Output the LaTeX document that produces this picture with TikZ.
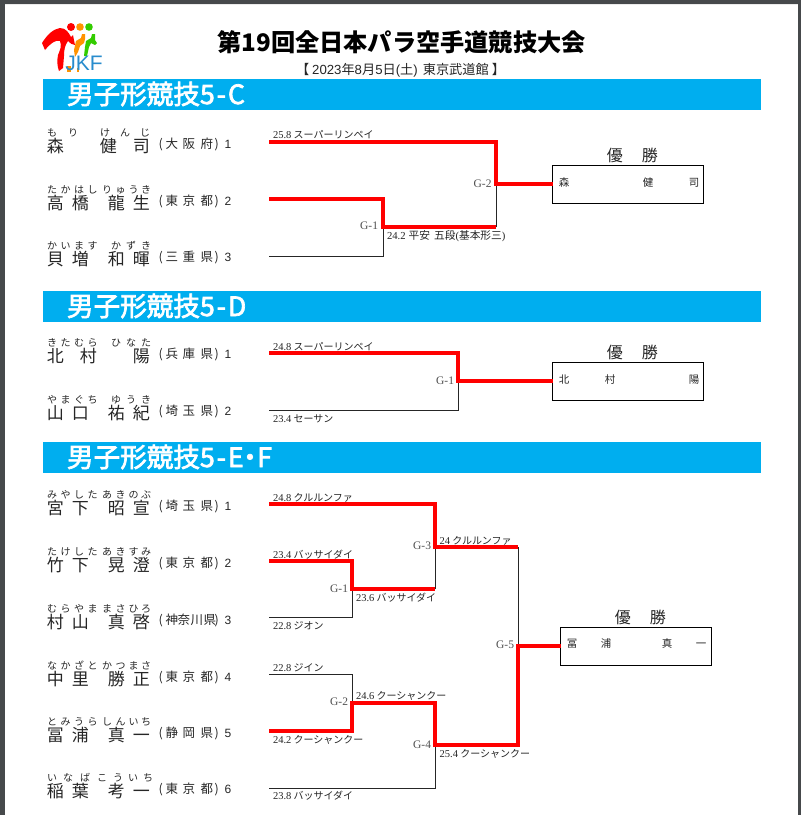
\documentclass[tikz,border=0pt]{standalone}
\usepackage{fontspec}
\setmainfont{Noto Sans CJK JP}
\newfontfamily\lat{Liberation Serif}
\newfontfamily\latsans{Liberation Sans}
\newfontfamily\barfont[FakeBold=2.5]{Noto Sans CJK JP}
\newlength{\pxu}\setlength{\pxu}{0.75pt}
\newcommand\kc[2]{\rlap{\hspace{#1\pxu}#2}}
\newcommand\fs[1]{\fontsize{#1\pxu}{#1\pxu}\selectfont}
\newcommand\kn[1]{\hspace{#1\pxu}}
\definecolor{barblue}{HTML}{00AEEF}
\definecolor{winred}{HTML}{FF0000}
\definecolor{ink}{HTML}{262626}
\definecolor{chrome}{HTML}{46494B}
\tikzset{
  base/.style={inner sep=0pt,outer sep=0pt,text=ink,anchor=base west},
  kanjitext/.style={base,font=\fs{17}},
  kanatext/.style={base,font=\fs{10}},
  preftext/.style={base,font=\fs{12.5}},
  numtext/.style={base,font=\latsans\fs{12}},
  score/.style={inner sep=0pt,outer sep=0pt,text=ink,anchor=west,font=\fs{10}},
  gamelabel/.style={inner sep=0pt,outer sep=0pt,text=ink!80,anchor=east,font=\lat\fs{11.5}},
  bar/.style={fill=barblue,draw=none,minimum width=718*\pxu,minimum height=31*\pxu,inner sep=0pt,outer sep=0pt,anchor=west},
  bartext/.style={inner sep=0pt,outer sep=0pt,text=white,anchor=base west,font=\barfont\fs{26.6}},
  winline/.style={draw=winred,line width=3.8*\pxu,line join=miter},
  loseline/.style={draw=ink,line width=1*\pxu},
  winbox/.style={draw=black,line width=1*\pxu,minimum width=151*\pxu,minimum height=38*\pxu,inner sep=0pt,outer sep=0pt,anchor=north west,fill=white},
  boxtext/.style={inner sep=0pt,text=ink,anchor=base west,font=\fs{10.5}},
  wintitle/.style={inner sep=0pt,text=ink,anchor=base west,font=\fs{16}},
}
% id, y of kanji centre, kana, kanji, prefecture, number
\newcommand\Player[6]{%
  \node[kanatext] (#1k) at (46.5,#2-9.5) {#3};
  \node[kanjitext] (#1n) at (46.3,#2+6) {#4};
  \node[preftext] (#1p) at (158,#2+2.5) {#5};
  \node[numtext] (#1r) at (224.5,#2+2.5) {#6};
}
\newcommand\Kn[8]{\kc{0}{#1}\kc{13.5}{#2}\kc{27}{#3}\kc{40.5}{#4}\kc{#5}{}\kc{55}{#6}\kc{68.5}{#7}\kc{81.5}{#8}}
\newcommand\Pf[3]{\kc{0}{(}\kc{7}{#1}\kc{24}{#2}\kc{42}{#3}\kc{56}{)}}
\newcommand\Nm[4]{\kc{0}{#1}\kc{25}{#2}\kc{61}{#3}\kc{86}{#4}}
\newcommand\Score[5]{\node[score] (#1) at (#2,#3) {{\lat\fs{10.5}#4} #5};}
\begin{document}
\begin{tikzpicture}[x=0.75pt,y=-0.75pt]
\useasboundingbox (0,0) rectangle (801,815);
\fill[white] (0,0) rectangle (801,815);
\fill[chrome] (0,0) rectangle (801,4);
\fill[chrome] (0,0) rectangle (5,815);
\fill[chrome] (798,0) rectangle (801,815);
\fill[black!8] (5,4) rectangle (798,5);

% logo
\fill[winred] (71,27) circle (4);
\fill[orange!85!yellow] (80,27) circle (3.8);
\fill[green!60!olive] (89,27) circle (3.8);
\fill[orange!85!yellow] (76,41) -- (81,38) -- (82,34) -- (85,34) -- (85,39) -- (84,43) -- (80,46) -- (78,52) -- (75,57) -- (74,50) -- cycle;
\fill[orange!85!yellow] (67,66) rectangle (71,72);
\fill[orange!85!yellow] (77,68) rectangle (79,72);
\fill[green!60!olive] (86,41) -- (91,38) -- (92,34) -- (95,34) -- (95,40) -- (97,43) -- (95,45) -- (91,43) -- (89,47) -- (87,56) -- (84,56) -- (85,47) -- cycle;
\fill[winred] (42,43) .. controls (47,35) and (53,29) .. (60,28) .. controls (66,28) and (69,33) .. (71,37) -- (73,35) -- (75,45) .. controls (72,45) and (70,43) .. (68,41) .. controls (65,45) and (64,50) .. (64,56) -- (63,68) -- (59,71) .. controls (57,66) and (57,60) .. (58,55) .. controls (60,50) and (62,46) .. (60,41) .. controls (56,39) and (50,44) .. (45,50) -- cycle;
\node[inner sep=0pt,text={rgb,255:red,40;green,140;blue,205},font=\latsans\fs{21},anchor=base] (logotext) at (84,70) {JKF};

% header
\node[inner sep=0pt,text=black,anchor=base,font=\fs{24.2}\bfseries] (title) at (401.5,51) {第19回全日本パラ空手道競技大会};
\node[inner sep=0pt,text=ink,anchor=base,font=\fs{13.2}] (date) at (400.5,74.5) {【 {\latsans 2023}年{\latsans 8}月{\latsans 5}日{\latsans (}土{\latsans )}\hspace{5\pxu}東京武道館 】};

% section bars
\node[bar] (barC) at (43,94.5) {};
\node[bartext] at (67,104) (barCt) {男子形競技5\kn{2}-\kn{2}C};
\node[bar] (barD) at (43,306.5) {};
\node[bartext] at (67,316) (barDt) {男子形競技5\kn{2}-\kn{2}D};
\node[bar] (barE) at (43,457.5) {};
\node[bartext] at (67,467) (barEt) {男子形競技5\kn{2}-\kn{2}E\kn{-7}・\kn{-6}F};

% players: section C
\Player{ca}{146}{\kc{0}{も}\kc{21}{り}\kc{53}{け}\kc{73}{ん}\kc{93}{じ}}{\kc{0}{森}\kc{53}{健}\kc{86}{司}}{\Pf{大}{阪}{府}}{1}
\Player{cb}{203}{\Kn{た}{か}{は}{し}{0}{り}{ゅ}{う}\kc{94}{き}}{\Nm{高}{橋}{龍}{生}}{\Pf{東}{京}{都}}{2}
\Player{cc}{259}{\Kn{か}{い}{ま}{す}{0}{}{}{}\kc{64}{か}\kc{79}{ず}\kc{94}{き}}{\Nm{貝}{増}{和}{暉}}{\Pf{三}{重}{県}}{3}
% section D
\Player{da}{356}{\Kn{き}{た}{む}{ら}{0}{}{}{}\kc{64}{ひ}\kc{79}{な}\kc{94}{た}}{\kc{0}{北}\kc{33}{村}\kc{86}{陽}}{\Pf{兵}{庫}{県}}{1}
\Player{db}{413}{\Kn{や}{ま}{ぐ}{ち}{0}{}{}{}\kc{64}{ゆ}\kc{79}{う}\kc{94}{き}}{\Nm{山}{口}{祐}{紀}}{\Pf{埼}{玉}{県}}{2}
% section E F
\Player{ea}{508}{\Kn{み}{や}{し}{た}{0}{あ}{き}{の}\kc{94}{ぶ}}{\Nm{宮}{下}{昭}{宣}}{\Pf{埼}{玉}{県}}{1}
\Player{eb}{565}{\Kn{た}{け}{し}{た}{0}{あ}{き}{す}\kc{94}{み}}{\Nm{竹}{下}{晃}{澄}}{\Pf{東}{京}{都}}{2}
\Player{ec}{622}{\Kn{む}{ら}{や}{ま}{0}{ま}{さ}{ひ}\kc{94}{ろ}}{\Nm{村}{山}{真}{啓}}{\kc{0}{(}\kc{7}{神}\kc{19}{奈}\kc{32}{川}\kc{45}{県}\kc{56}{)}}{3}
\Player{ed}{679}{\Kn{な}{か}{ざ}{と}{0}{か}{つ}{ま}\kc{94}{さ}}{\Nm{中}{里}{勝}{正}}{\Pf{東}{京}{都}}{4}
\Player{ee}{735}{\Kn{と}{み}{う}{ら}{0}{し}{ん}{い}\kc{94}{ち}}{\Nm{冨}{浦}{真}{一}}{\Pf{静}{岡}{県}}{5}
\Player{ef}{791}{\kc{0}{い}\kc{16}{な}\kc{33}{ば}\kc{50}{こ}\kc{66}{う}\kc{81}{い}\kc{96}{ち}}{\Nm{稲}{葉}{考}{一}}{\Pf{東}{京}{都}}{6}

% winner boxes
\node[winbox] (wC) at (552.5,165.5) {};
\node[boxtext] (wCn) at (558,186) {\kc{0}{森}\kc{84}{健}\kc{130}{司}};
\node[wintitle] (wCt) at (606,161) {\kc{0}{優}\kc{35}{勝}};
\node[winbox] (wD) at (552.5,362.5) {};
\node[boxtext] (wDn) at (558,383) {\kc{0}{北}\kc{46}{村}\kc{130}{陽}};
\node[wintitle] (wDt) at (606,358) {\kc{0}{優}\kc{35}{勝}};
\node[winbox] (wE) at (560.5,627) {};
\node[boxtext] (wEn) at (566,647) {\kc{0}{冨}\kc{34}{浦}\kc{95}{真}\kc{129}{一}};
\node[wintitle] (wEt) at (614,623) {\kc{0}{優}\kc{35}{勝}};

% bracket points
\coordinate (c1) at (269,142); \coordinate (c2) at (269,199); \coordinate (c3) at (269,256);
\coordinate (cg1) at (383,227); \coordinate (cg2) at (496,184);
\coordinate (d1) at (269,353); \coordinate (d2) at (269,410); \coordinate (dg1) at (458,381);
\coordinate (e1) at (269,504); \coordinate (e2) at (269,561); \coordinate (e3) at (269,617);
\coordinate (e4) at (269,674); \coordinate (e5) at (269,731); \coordinate (e6) at (269,788);
\coordinate (eg1) at (352,589); \coordinate (eg2) at (352,703);
\coordinate (eg3) at (435,547); \coordinate (eg4) at (435,745); \coordinate (eg5) at (518,646);

% losing connectors
\draw[loseline] (c3) -| (cg1);
\draw[loseline] (cg1 -| cg2) -- (cg2);
\draw[loseline] (d2) -| (dg1);
\draw[loseline] (e3) -| (eg1);
\draw[loseline] (e4) -| (eg2);
\draw[loseline] (e6) -| (eg4);
\draw[loseline] (eg1 -| eg3) -- (eg3);
\draw[loseline] (eg3 -| eg5) -- (eg5);

% winning connectors
\draw[winline] (c1) -| (cg2) -- (wC.west |- cg2);
\draw[winline] (c2) -| (cg1) -- (cg1 -| cg2);
\draw[winline] (d1) -| (dg1) -- (wD.west |- dg1);
\draw[winline] (e1) -| (eg3) -- (eg3 -| eg5);
\draw[winline] (e2) -| (eg1) -- (eg1 -| eg3);
\draw[winline] (e5) -| (eg2) -- (eg2 -| eg4) -- (eg4) -- (eg4 -| eg5) -- (eg5) -- (wE.west |- eg5);

% score labels
\Score{sc1}{273}{135}{25.8}{スーパーリンペイ}
\node[score,font=\fs{10.7}] (sc2) at (387,236) {{\lat 24.2}\kn{3}平安\kn{4}五段{\lat(}基本形三{\lat)}};
\Score{sd1}{273}{347}{24.8}{スーパーリンペイ}
\Score{sd2}{273}{419}{23.4}{セーサン}
\Score{se1}{273}{498}{24.8}{クルルンファ}
\Score{se2}{273}{555}{23.4}{バッサイダイ}
\Score{se3}{356}{598}{23.6}{バッサイダイ}
\Score{se4}{273}{626}{22.8}{ジオン}
\Score{se5}{273}{668}{22.8}{ジイン}
\Score{se6}{356}{696}{24.6}{クーシャンクー}
\Score{se7}{273}{740}{24.2}{クーシャンクー}
\Score{se8}{273}{796}{23.8}{バッサイダイ}
\Score{se9}{439.7}{541}{24}{クルルンファ}
\Score{se10}{439.7}{754}{25.4}{クーシャンクー}

% game labels
\node[gamelabel] (gc1) at (378,226) {G-1};
\node[gamelabel] (gc2) at (491.5,184) {G-2};
\node[gamelabel] (gd1) at (454,381) {G-1};
\node[gamelabel] (ge1) at (348,589) {G-1};
\node[gamelabel] (ge2) at (348,702) {G-2};
\node[gamelabel] (ge3) at (431,546) {G-3};
\node[gamelabel] (ge4) at (431,745) {G-4};
\node[gamelabel] (ge5) at (514,645) {G-5};
\end{tikzpicture}
\end{document}
